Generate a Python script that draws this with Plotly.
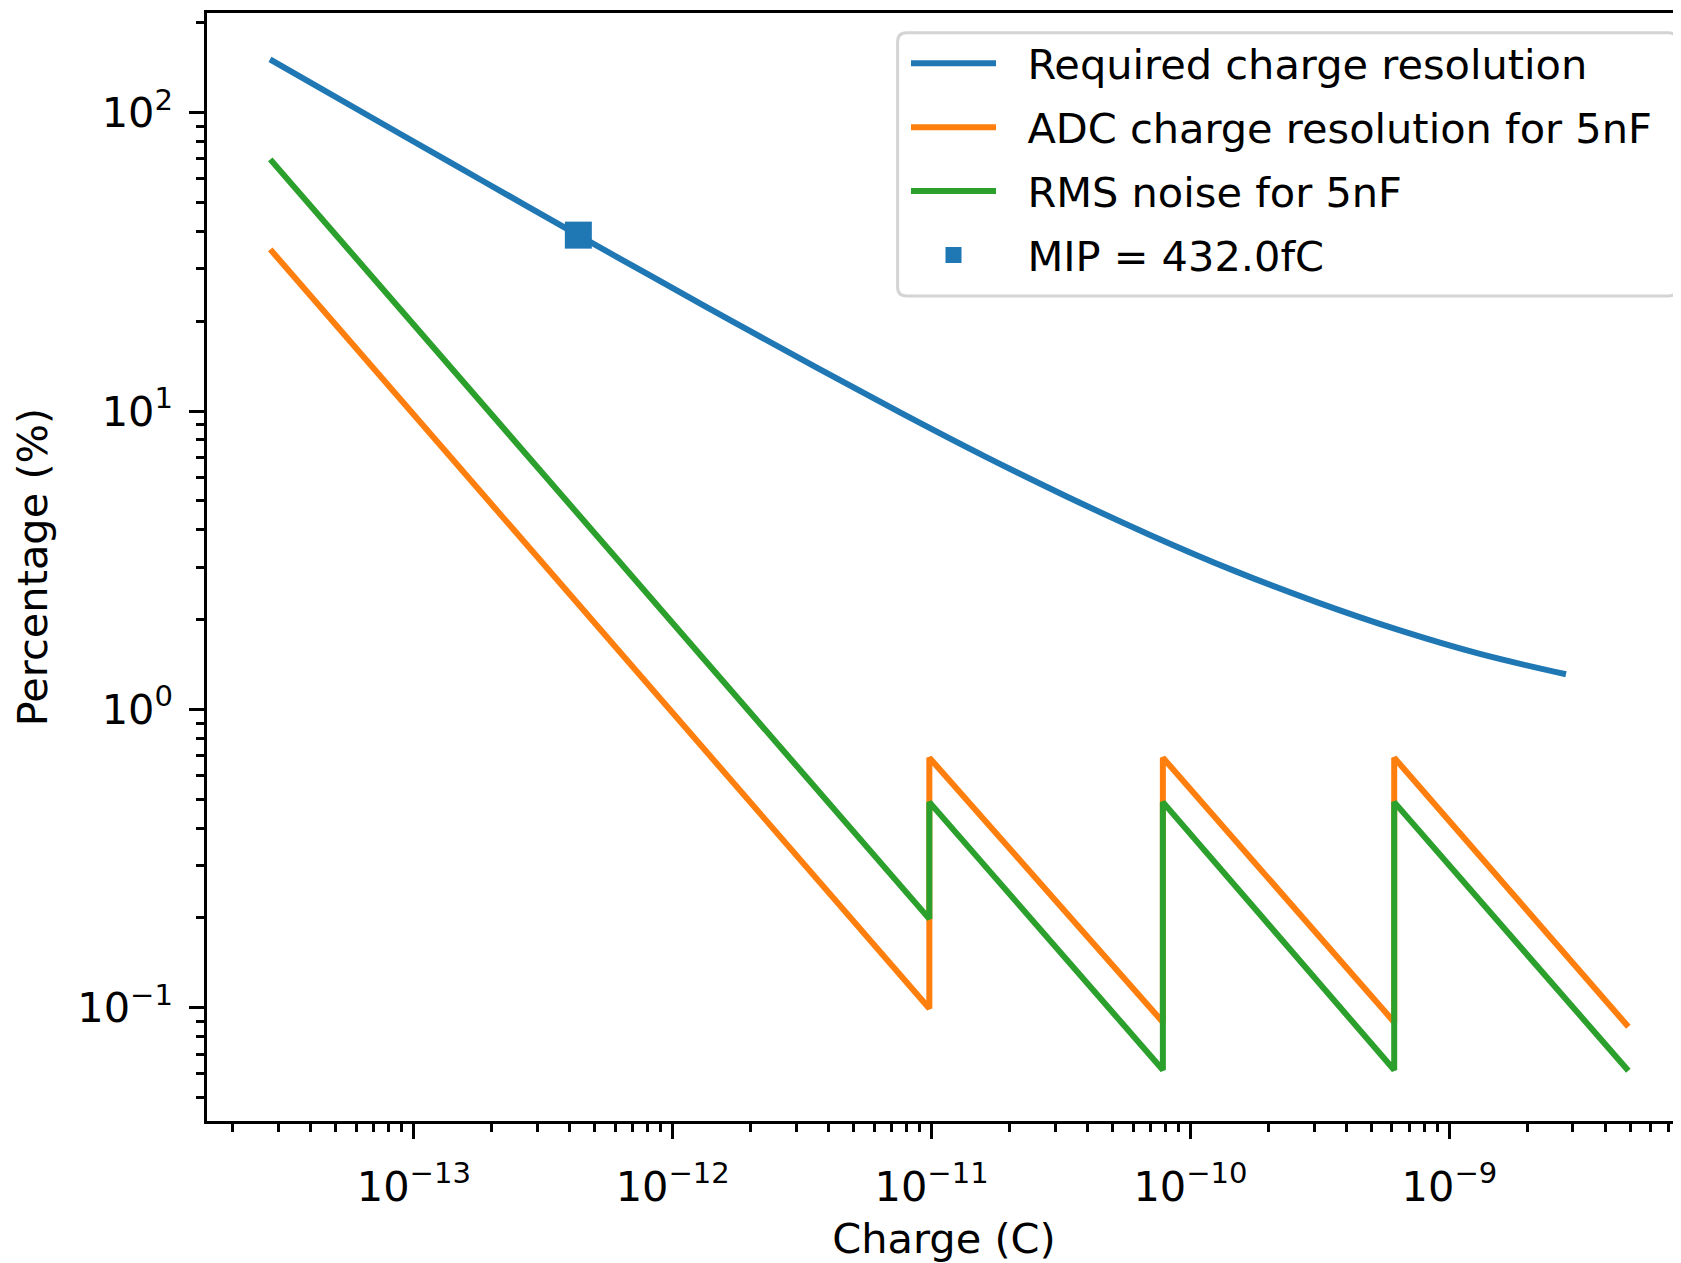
import plotly.graph_objects as go

# ---- data ----
req_charge = [2.783e-14, 8.84e-14, 1.855e-13, 4.394e-13, 8.17e-13, 1.714e-12,
              3.60e-12, 7.55e-12, 1.584e-11, 3.323e-11, 6.977e-11, 1.463e-10,
              3.071e-10, 6.445e-10, 1.312e-9, 2.82e-9]
req_pct = [150.9, 84.96, 58.88, 38.51, 28.46, 19.89, 13.98, 9.890, 7.086, 5.170,
           3.844, 2.923, 2.288, 1.839, 1.534, 1.311]

saw_charge = [2.79e-14, 9.8e-12, 9.8e-12, 7.82e-11, 7.82e-11, 6.12e-10, 6.12e-10, 4.91e-9]
adc_pct = [34.8, 0.0995, 0.689, 0.0895, 0.689, 0.0895, 0.689, 0.0864]
noise_pct = [69.7, 0.1986, 0.489, 0.0619, 0.489, 0.0619, 0.489, 0.0615]

mip_charge = [4.32e-13]
mip_pct = [38.85]

x_major = [1e-13, 1e-12, 1e-11, 1e-10, 1e-9]
x_labels = ["10<sup>−13</sup>", "10<sup>−12</sup>", "10<sup>−11</sup>",
            "10<sup>−10</sup>", "10<sup>−9</sup>"]
y_major = [1e-1, 1e0, 1e1, 1e2]
y_labels = ["10<sup>−1</sup>", "10<sup>0</sup>", "10<sup>1</sup>", "10<sup>2</sup>"]

x_minor = [k * 10.0 ** d for d in range(-14, -8) for k in range(2, 10)]
y_minor = [k * 10.0 ** d for d in range(-2, 3) for k in range(2, 10)]

FONT = "DejaVu Sans"
FS = 41.5      # labels / legend
TFS = 41.5     # tick labels
LW = 6
GAP = "\u00a0\u00a0"

fig = go.Figure()
fig.add_trace(go.Scatter(x=req_charge, y=req_pct, mode="lines",
                         name=GAP + "Required charge resolution", legendgroup="g1",
                         line=dict(color="#1f77b4", width=LW, shape="spline")))
fig.add_trace(go.Scatter(x=saw_charge, y=adc_pct, mode="lines",
                         name=GAP + "ADC charge resolution for 5nF", legendgroup="g2",
                         line=dict(color="#ff7f0e", width=LW)))
fig.add_trace(go.Scatter(x=saw_charge, y=noise_pct, mode="lines",
                         name=GAP + "RMS noise for 5nF", legendgroup="g3",
                         line=dict(color="#2ca02c", width=LW)))
fig.add_trace(go.Scatter(x=mip_charge, y=mip_pct, mode="markers",
                         name=GAP + "MIP = 432.0fC", legendgroup="g4",
                         marker=dict(symbol="square", size=27, color="#1f77b4",
                                     line=dict(width=0))))

# page body has an 8px margin: place the plot area at x 207..1681, y 13..1121 of the page
OFF = 8
W, H = 1681 - OFF, 1263 - OFF
ML, MR, MT, MB = 207 - OFF, 0, 13 - OFF, 142
PX0, PX1, PY0, PY1 = 207, 1681, 13, 1121   # plot area in page pixels


def px(xp):
    return (xp - PX0) / (PX1 - PX0)


def py(yp):
    return (PY1 - yp) / (PY1 - PY0)


# rounded legend frame (matplotlib style)
fx0, fx1, fy1, fy0 = px(897.6), px(1677), py(32.7), py(296)
rx, ry = 9 / (PX1 - PX0), 9 / (PY1 - PY0)
frame_path = (f"M {fx0+rx},{fy1} L {fx1-rx},{fy1} Q {fx1},{fy1} {fx1},{fy1-ry} "
              f"L {fx1},{fy0+ry} Q {fx1},{fy0} {fx1-rx},{fy0} "
              f"L {fx0+rx},{fy0} Q {fx0},{fy0} {fx0},{fy0+ry} "
              f"L {fx0},{fy1-ry} Q {fx0},{fy1} {fx0+rx},{fy1} Z")

fig.update_layout(
    width=W, height=H,
    margin=dict(l=ML, r=MR, t=MT, b=MB, pad=0),
    paper_bgcolor="white", plot_bgcolor="white",
    font=dict(family=FONT, size=FS, color="black"),
    showlegend=True,
    legend=dict(
        x=px(906), y=py(29.7),
        xanchor="left", yanchor="top",
        bgcolor="rgba(0,0,0,0)", borderwidth=0,
        font=dict(family=FONT, size=FS, color="black"),
        itemwidth=85, tracegroupgap=7, traceorder="grouped",
        itemclick=False, itemdoubleclick=False,
    ),
    shapes=[dict(type="path", xref="paper", yref="paper", path=frame_path,
                 line=dict(color="#d4d4d4", width=3),
                 fillcolor="rgba(255,255,255,0.8)", layer="above")],
)
fig.update_xaxes(
    type="log", range=[-13.7988, -8.1055], autorange=False,
    showgrid=False, zeroline=False, automargin=False,
    showline=True, linecolor="black", linewidth=3.3, mirror=True,
    ticks="outside", ticklen=14.6, tickwidth=3.3, tickcolor="black",
    tickmode="array", tickvals=x_major, ticktext=x_labels, ticklabelstandoff=12,
    tickfont=dict(family=FONT, size=TFS, color="black"),
    minor=dict(ticks="outside", ticklen=8.3, tickwidth=2.5, tickcolor="black",
               tickmode="array", tickvals=x_minor, showgrid=False),
    title=dict(text="Charge (C)", font=dict(family=FONT, size=FS, color="black"), standoff=26),
)
fig.update_yaxes(
    type="log", range=[-1.3794, 2.3338], autorange=False,
    showgrid=False, zeroline=False, automargin=False,
    showline=True, linecolor="black", linewidth=3.3, mirror=False,
    ticks="outside", ticklen=14.6, tickwidth=3.3, tickcolor="black",
    tickmode="array", tickvals=y_major, ticktext=y_labels, ticklabelstandoff=8,
    tickfont=dict(family=FONT, size=TFS, color="black"),
    minor=dict(ticks="outside", ticklen=8.3, tickwidth=2.5, tickcolor="black",
               tickmode="array", tickvals=y_minor, showgrid=False),
    title=dict(text="Percentage (%)", font=dict(family=FONT, size=FS, color="black"), standoff=22),
)

fig.write_html("out.html")
